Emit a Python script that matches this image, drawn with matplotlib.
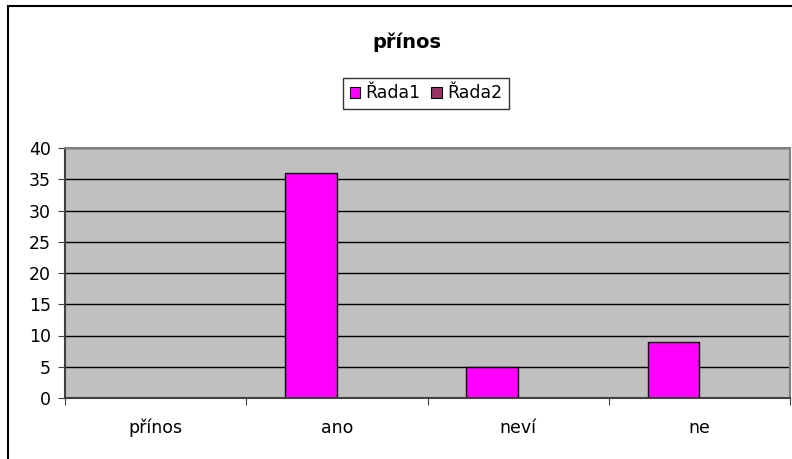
import matplotlib
matplotlib.use("Agg")
import matplotlib.pyplot as plt
from matplotlib.patches import Rectangle, Patch
import numpy as np

plt.rcParams['font.family'] = ['DejaVu Sans']

title = "přínos"
categories = ["přínos", "ano", "neví", "ne"]
series_names = ["Řada1", "Řada2"]
rada1 = [0, 36, 5, 9]
rada2 = [0, 0, 0, 0]
y_ticks = [0, 5, 10, 15, 20, 25, 30, 35, 40]

W, H = 792, 459
fig = plt.figure(figsize=(W / 100, H / 100), dpi=100)

# outer chart border
fig.add_artist(Rectangle((8 / W, -0.05), 1.1, 1 - 6 / H + 0.05, transform=fig.transFigure,
                         fill=False, edgecolor='black', linewidth=1.5))

L, R, T, B = 65, 790, 148, 398
ax = fig.add_axes([L / W, 1 - B / H, (R - L) / W, (B - T) / H])
ax.set_facecolor('#C0C0C0')

x = np.arange(len(categories))
bw = 1 / 3.5
ax.bar(x - bw / 2, rada1, width=bw, color='#FF00FF', edgecolor='black', linewidth=1, zorder=1)
ax.bar(x + bw / 2, rada2, width=bw, color='#993366', edgecolor='none', linewidth=0, zorder=1)

ax.set_xlim(-0.5, len(categories) - 0.5)
ax.set_ylim(0, 40)
ax.set_yticks(y_ticks)
ax.set_axisbelow(True)
ax.yaxis.grid(True, color='black', linewidth=1)

ax.set_xticks(np.arange(len(categories) + 1) - 0.5)
ax.set_xticklabels([])
ax.set_xticks(x, minor=True)
ax.set_xticklabels(categories, minor=True)
ax.tick_params(axis='x', which='minor', length=0, pad=15, labelsize=12.5)
ax.tick_params(axis='x', which='major', length=5, color='#404040', direction='out')
ax.tick_params(axis='y', length=5, color='#404040', direction='out', pad=5, labelsize=12.5)

for s in ['top', 'right']:
    ax.spines[s].set_color('#808080')
    ax.spines[s].set_linewidth(1.5)
for s in ['left', 'bottom']:
    ax.spines[s].set_color('#404040')
    ax.spines[s].set_linewidth(1.5)

fig.text(407 / W, 1 - 42 / H, title, ha='center', va='center', fontsize=14, fontweight='bold')

handles = [Patch(facecolor='#FF00FF', edgecolor='black', linewidth=0.8),
           Patch(facecolor='#993366', edgecolor='black', linewidth=0.8)]
leg = fig.legend(handles, series_names, loc='center', bbox_to_anchor=(426 / W, 1 - 93.5 / H),
                 ncol=2, frameon=True, fancybox=False, fontsize=12.5, handlelength=0.6,
                 handleheight=0.6, handletextpad=0.3, columnspacing=0.6, borderpad=0.4,
                 borderaxespad=0)
leg.get_frame().set_edgecolor('black')
leg.get_frame().set_linewidth(1)

fig.savefig('out.png', dpi=100)
